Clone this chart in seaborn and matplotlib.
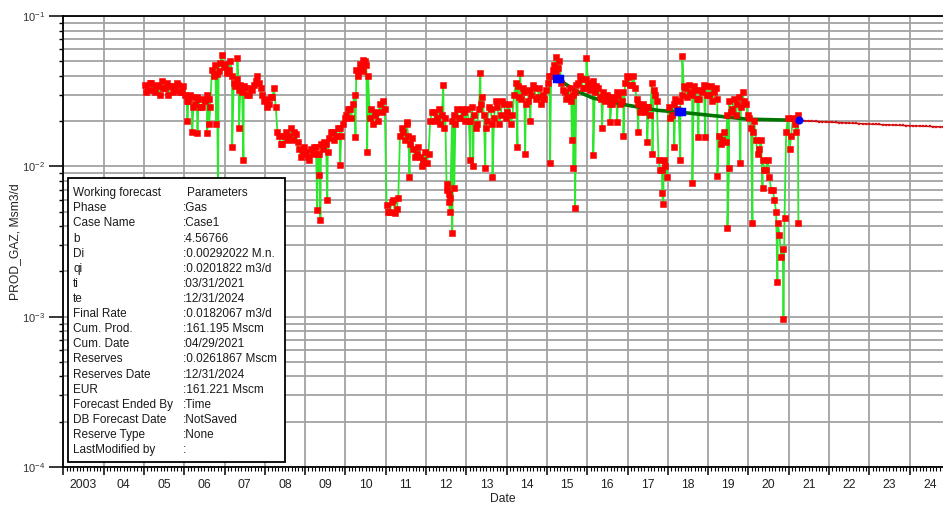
import numpy as np
import pandas as pd
import matplotlib
matplotlib.use("Agg")
import matplotlib.pyplot as plt
import seaborn as sns
from matplotlib.ticker import FixedLocator, LogLocator, NullFormatter, NullLocator, LogFormatterMathtext
from matplotlib.patches import Rectangle

sns.set_style("ticks")
plt.rcParams['font.family'] = ['Liberation Sans', 'DejaVu Sans']
plt.rcParams['mathtext.fontset'] = 'custom'
plt.rcParams['mathtext.rm'] = 'Liberation Sans'
plt.rcParams['mathtext.it'] = 'Liberation Sans:italic'
plt.rcParams['mathtext.bf'] = 'Liberation Sans:bold'

# ---- gas rate history, Msm3/d: early-month and late-month readings (Jan..Dec) ----
rate_2005 = [0.035, 0.032, 0.036, 0.031, 0.034, 0.037, 0.033, 0.030, 0.034, 0.032, 0.035, 0.031]
late_2005 = [0.031, 0.036, 0.032, 0.035, 0.030, 0.033, 0.036, 0.034, 0.031, 0.036, 0.031, 0.034]
rate_2006 = [0.030, 0.027, 0.029, 0.026, 0.028, 0.025, 0.027, 0.028, 0.044, 0.047, 0.043, 0.055]
late_2006 = [0.027, 0.030, 0.025, 0.029, 0.025, 0.028, 0.030, 0.025, 0.040, 0.041, 0.049, 0.046]
rate_2007 = [0.048, 0.044, 0.040, 0.034, 0.032, 0.031, 0.033, 0.030, 0.032, 0.037, 0.036, 0.030]
late_2007 = [0.042, 0.050, 0.036, 0.038, 0.035, 0.034, 0.030, 0.033, 0.035, 0.040, 0.033, 0.027]
rate_2008 = [0.028, 0.026, 0.029, 0.025, 0.016, 0.014, 0.017, 0.016, 0.015, 0.0165, 0.013, 0.012]
late_2008 = [0.025, 0.029, 0.033, 0.017, 0.014, 0.016, 0.0150, 0.018, 0.017, 0.0145, 0.0115, 0.0135]
rate_2009 = [0.0125, 0.011, 0.012, 0.0135, 0.012, 0.013, 0.014, 0.0155, 0.017, 0.016, 0.018, 0.019]
late_2009 = [0.0115, 0.013, 0.0135, 0.012, 0.014, 0.0145, 0.0125, 0.017, 0.015, 0.018, 0.016, 0.021]
rate_2010 = [0.022, 0.024, 0.026, 0.044, 0.048, 0.043, 0.047, 0.021, 0.019, 0.023, 0.026, 0.027]
late_2010 = [0.024, 0.021, 0.030, 0.040, 0.044, 0.050, 0.040, 0.024, 0.022, 0.020, 0.023, 0.024]
rate_2011 = [0.0055, 0.0050, 0.0060, 0.0052, 0.016, 0.017, 0.019, 0.014, 0.013, 0.012, 0.0115, 0.011]
late_2011 = [0.0050, 0.0058, 0.0049, 0.0062, 0.018, 0.015, 0.016, 0.0155, 0.0115, 0.0135, 0.010, 0.0125]
rate_2012 = [0.0105, 0.020, 0.023, 0.021, 0.019, 0.018, 0.0070, 0.0062, 0.022, 0.024, 0.021, 0.023]
late_2012 = [0.012, 0.023, 0.020, 0.024, 0.022, 0.021, 0.0058, 0.020, 0.019, 0.021, 0.024, 0.020]
rate_2013 = [0.024, 0.020, 0.022, 0.019, 0.026, 0.022, 0.020, 0.024, 0.021, 0.025, 0.022, 0.026]
late_2013 = [0.020, 0.025, 0.018, 0.024, 0.029, 0.018, 0.025, 0.019, 0.027, 0.019, 0.027, 0.021]
rate_2014 = [0.023, 0.019, 0.030, 0.034, 0.028, 0.031, 0.027, 0.030, 0.033, 0.029, 0.026, 0.028]
late_2014 = [0.026, 0.022, 0.036, 0.029, 0.033, 0.026, 0.032, 0.035, 0.028, 0.033, 0.030, 0.032]
rate_2015 = [0.036, 0.040, 0.047, 0.045, 0.036, 0.031, 0.029, 0.027, 0.031, 0.036, 0.038, 0.033]
late_2015 = [0.040, 0.044, 0.042, 0.050, 0.032, 0.028, 0.033, 0.030, 0.035, 0.040, 0.033, 0.038]
rate_2016 = [0.036, 0.034, 0.031, 0.033, 0.028, 0.027, 0.029, 0.026, 0.028, 0.030, 0.027, 0.036]
late_2016 = [0.032, 0.037, 0.034, 0.029, 0.031, 0.030, 0.026, 0.029, 0.031, 0.026, 0.031, 0.040]
rate_2017 = [0.039, 0.035, 0.033, 0.026, 0.024, 0.023, 0.025, 0.036, 0.030, 0.011, 0.0095, 0.010]
late_2017 = [0.035, 0.040, 0.028, 0.023, 0.026, 0.025, 0.022, 0.032, 0.027, 0.0095, 0.0110, 0.0085]
rate_2018 = [0.025, 0.022, 0.028, 0.023, 0.030, 0.033, 0.035, 0.030, 0.032, 0.028, 0.031, 0.034]
late_2018 = [0.021, 0.026, 0.024, 0.027, 0.034, 0.029, 0.031, 0.034, 0.028, 0.032, 0.035, 0.030]
rate_2019 = [0.030, 0.027, 0.033, 0.016, 0.015, 0.0145, 0.027, 0.024, 0.022, 0.029, 0.031, 0.026]
late_2019 = [0.034, 0.031, 0.028, 0.014, 0.017, 0.022, 0.023, 0.028, 0.026, 0.025, 0.027, 0.022]
rate_2020 = [0.021, 0.017, 0.015, 0.013, 0.011, 0.0095, 0.0085, 0.007, 0.005, 0.0035, 0.0028, 0.017]
late_2020 = [0.018, 0.020, 0.012, 0.015, 0.0095, 0.011, 0.0070, 0.0060, 0.0042, 0.0025, 0.0045, 0.021]
rate_2021 = [0.013, 0.021, 0.017]
late_2021 = [0.016, 0.019, 0.022]

history_years = list(range(2005, 2022))
early_rates = [rate_2005, rate_2006, rate_2007, rate_2008, rate_2009, rate_2010,
               rate_2011, rate_2012, rate_2013, rate_2014, rate_2015, rate_2016,
               rate_2017, rate_2018, rate_2019, rate_2020, rate_2021]
late_rates = [late_2005, late_2006, late_2007, late_2008, late_2009, late_2010,
              late_2011, late_2012, late_2013, late_2014, late_2015, late_2016,
              late_2017, late_2018, late_2019, late_2020, late_2021]

# ---- single-day excursions (decimal year, Msm3/d) ----
spike_dates = [2006.08, 2006.20, 2006.33, 2006.57, 2006.62, 2006.80, 2006.84,
               2007.19, 2007.32, 2007.36, 2007.47,
               2009.30, 2009.34, 2009.38, 2009.55, 2009.87,
               2010.25, 2010.44, 2010.54,
               2011.52, 2011.59,
               2012.43, 2012.51, 2012.56, 2012.60, 2012.65, 2012.70,
               2013.10, 2013.17, 2013.35, 2013.47, 2013.65,
               2014.27, 2014.34, 2014.46, 2014.59,
               2015.08, 2015.22, 2015.62, 2015.66, 2015.70, 2015.98,
               2016.15, 2016.37, 2016.57, 2016.74, 2016.90,
               2017.27, 2017.49, 2017.62, 2017.86, 2017.89,
               2018.16, 2018.31, 2018.36, 2018.61, 2018.76, 2018.93,
               2019.23, 2019.48, 2019.52, 2019.80,
               2020.10, 2020.35, 2020.72, 2020.87,
               2021.24]
spike_rates = [0.020, 0.017, 0.0166, 0.0166, 0.019, 0.019, 0.0055,
               0.0134, 0.0525, 0.018, 0.011,
               0.0051, 0.0087, 0.0044, 0.0060, 0.0102,
               0.0156, 0.051, 0.0124,
               0.0197, 0.0085,
               0.0347, 0.0076, 0.0065, 0.0050, 0.0036, 0.0072,
               0.011, 0.010, 0.042, 0.0098, 0.0085,
               0.0134, 0.042, 0.012, 0.020,
               0.0106, 0.053, 0.015, 0.0098, 0.0053, 0.0525,
               0.0119, 0.018, 0.0197, 0.0197, 0.016,
               0.017, 0.0145, 0.012, 0.0066, 0.0056,
               0.0134, 0.0111, 0.054, 0.0077, 0.0157, 0.0157,
               0.0086, 0.0039, 0.0098, 0.0105,
               0.0042, 0.0072, 0.0017, 0.00097,
               0.0042]

# ---- earlier decline segments and their anchor points ----
trend_dates = [2015.28, 2015.70, 2016.15, 2017.00, 2017.74, 2018.31, 2019.97, 2020.96, 2021.25]
trend_rates = [0.038, 0.032, 0.0284, 0.0255, 0.0236, 0.0229, 0.0206, 0.0203, 0.0201822]
anchor_dates = [2015.25, 2015.32, 2018.27, 2018.34]
anchor_rates = [0.038, 0.038, 0.0229, 0.0229]

# ---- working forecast parameters ----
b_exp = 4.56766
di_month = 0.00292022
qi = 0.0201822
ti = 2021.25
te = 2025.0

param_names = ["Working forecast", "Phase", "Case Name", "b", "Di", "qi", "ti", "te",
               "Final Rate", "Cum. Prod.", "Cum. Date", "Reserves", "Reserves Date", "EUR",
               "Forecast Ended By", "DB Forecast Date", "Reserve Type", "LastModified by"]
param_values = ["Parameters", ":Gas", ":Case1", ":4.56766", ":0.00292022 M.n.", ":0.0201822 m3/d",
                ":03/31/2021", ":12/31/2024", ":0.0182067 m3/d", ":161.195 Mscm", ":04/29/2021",
                ":0.0261867 Mscm", ":12/31/2024", ":161.221 Mscm", ":Time", ":NotSaved",
                ":None", ":"]

year_labels = ["2003"] + [f"{y % 100:02d}" for y in range(2004, 2025)]

# ---- assemble tables ----
rows = []
for year, early, late in zip(history_years, early_rates, late_rates):
    for m, (v1, v2) in enumerate(zip(early, late)):
        rows.append((year + (m + 0.25) / 12.0, v1))
        rows.append((year + (m + 0.75) / 12.0, v2))
rows += list(zip(spike_dates, spike_rates))
hist = pd.DataFrame(rows, columns=["date", "rate"]).sort_values("date").reset_index(drop=True)

n_months = int(round((te - ti) * 12))
t_month = np.arange(0, n_months + 1)
fc = pd.DataFrame({
    "date": ti + t_month / 12.0,
    "rate": qi / (1.0 + b_exp * di_month * t_month) ** (1.0 / b_exp),
})

# ---- figure ----
W, H = 943, 508
fig = plt.figure(figsize=(W / 100, H / 100), dpi=100)
ax_left, ax_top, ax_bottom = 63.3, 16.0, 467.0
ax = fig.add_axes([ax_left / W, 1 - ax_bottom / H, 1 - ax_left / W, (ax_bottom - ax_top) / H])
ax.set_yscale("log")
ax.set_ylim(1e-4, 1e-1)
ax.set_xlim(2003.0, 2003.0 + (W - ax_left) / 40.3)

green = "#2ee62e"
sns.lineplot(data=hist, x="date", y="rate", color=green, lw=1.3, estimator=None,
             sort=True, ax=ax, zorder=2)
sns.lineplot(x=trend_dates, y=trend_rates, color="#007400", lw=2.6, estimator=None,
             ax=ax, zorder=3)
sns.scatterplot(data=hist, x="date", y="rate", marker="s", s=23, color="#ff0000",
                edgecolor="#ff0000", linewidth=0.4, ax=ax, zorder=4)
sns.scatterplot(x=anchor_dates, y=anchor_rates, marker="s", s=26, color="#0000ff",
                edgecolor="#0000ff", linewidth=0.3, ax=ax, zorder=5)
sns.lineplot(data=fc, x="date", y="rate", color="#b00000", lw=1.0, estimator=None,
             ax=ax, zorder=5)
sns.scatterplot(data=fc, x="date", y="rate", marker="s", s=3, color="#e01010",
                edgecolor="#e01010", linewidth=0.2, ax=ax, zorder=6)
sns.scatterplot(x=[ti], y=[qi], marker="o", s=30, color="#0000ff", edgecolor="#0000ff",
                linewidth=0.3, ax=ax, zorder=7)

# axes, ticks and grid
ax.set_xticks(np.arange(2003, 2025))
ax.xaxis.set_minor_locator(FixedLocator(2003 + np.arange(0, 22 * 12) / 12.0))
ax.tick_params(axis="x", which="major", labelbottom=False, length=6, width=1.1,
               color="black", direction="out")
ax.tick_params(axis="x", which="minor", length=3, width=0.8, color="black", direction="out")
ax.yaxis.set_major_locator(LogLocator(base=10, numticks=10))
ax.yaxis.set_minor_locator(LogLocator(base=10, subs=np.arange(2, 10), numticks=20))
ax.yaxis.set_minor_formatter(NullFormatter())
ax.yaxis.set_major_formatter(LogFormatterMathtext())
ax.tick_params(axis="y", which="major", length=10, width=1.1, color="black",
               direction="out", labelsize=8, labelcolor="#333333", pad=3)
ax.tick_params(axis="y", which="minor", length=3, width=1.0, color="black", direction="out")
ax.grid(True, which="major", axis="x", color="#a2a2a2", lw=1.3)
ax.grid(True, which="both", axis="y", color="#a2a2a2", lw=1.3)
ax.set_axisbelow(True)
for side in ("left", "top", "bottom"):
    ax.spines[side].set_color("black")
    ax.spines[side].set_linewidth(1.3)
ax.spines["right"].set_visible(False)

sec = ax.secondary_xaxis("bottom")
sec.set_xticks(np.arange(2003, 2025) + 0.5, labels=year_labels)
sec.xaxis.set_minor_locator(NullLocator())
sec.tick_params(length=0, pad=9, labelsize=8.7, labelcolor="#222222")
sec.spines["bottom"].set_visible(False)

ax.set_xlabel("Date", fontsize=8.7, color="#222222", labelpad=12)
ax.set_ylabel("PROD_GAZ, Msm3/d", fontsize=8.7, color="#222222")
ax.yaxis.set_label_coords(-0.048, 0.5)

# parameter box
bx0, by0, bx1, by1 = 68, 178, 285, 462
ax.add_patch(Rectangle((bx0 / W, 1 - by1 / H), (bx1 - bx0) / W, (by1 - by0) / H,
                       transform=fig.transFigure, facecolor="white", edgecolor="black",
                       lw=1.3, zorder=20, clip_on=False))
row0, row_step = 193.3, 15.1
for i, (name, val) in enumerate(zip(param_names, param_values)):
    yy = 1 - (row0 + i * row_step) / H
    ax.text(73 / W, yy, name, transform=fig.transFigure, fontsize=8.5, color="#1a1a1a",
            va="center", ha="left", zorder=21)
    vx = 187 if i == 0 else 183
    ax.text(vx / W, yy, val, transform=fig.transFigure, fontsize=8.5, color="#1a1a1a",
            va="center", ha="left", zorder=21)

fig.savefig("out.png", dpi=100)
